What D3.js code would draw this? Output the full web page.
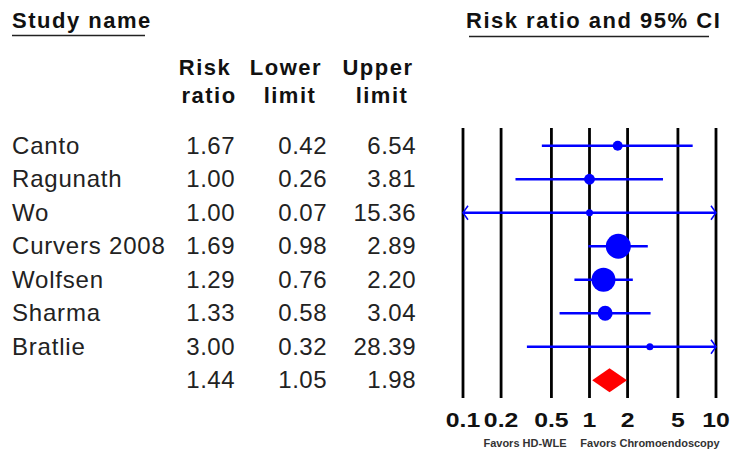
<!DOCTYPE html>
<html>
<head>
<meta charset="utf-8">
<script src="https://cdn.jsdelivr.net/npm/d3@7"></script>
<style>
  html, body { margin: 0; padding: 0; background: #fff; }
  svg text { font-family: "Liberation Sans", Arial, sans-serif; }
</style>
</head>
<body>
<svg id="chart" width="734" height="452"></svg>
<script>
// study data
const studies = ["Canto", "Ragunath", "Wo", "Curvers 2008", "Wolfsen", "Sharma", "Bratlie", ""];
const riskRatio = [1.67, 1.00, 1.00, 1.69, 1.29, 1.33, 3.00, 1.44];
const lowerLimit = [0.42, 0.26, 0.07, 0.98, 0.76, 0.58, 0.32, 1.05];
const upperLimit = [6.54, 3.81, 15.36, 2.89, 2.20, 3.04, 28.39, 1.98];
// relative weights (marker size), last row is the summary
const weights = [1.9, 2.3, 0.9, 12, 11, 4.3, 0.9, null];
const ticks = [0.1, 0.2, 0.5, 1, 2, 5, 10];

const svg = d3.select("#chart");

const x = d3.scaleLog().domain([0.1, 10]).range([463, 716]);
const y = d3.scaleBand().domain(d3.range(studies.length)).range([129, 397]);
const rowY = i => y(i) + y.bandwidth() / 2;
const r = d3.scaleSqrt().domain([0, 12]).range([0, 12.5]);

// --- ヘッダー ---
const boldHead = sel => sel.style("font-size", "22px").style("font-weight", "bold")
  .style("letter-spacing", "1.5px").attr("fill", "#111");

svg.append("text").attr("x", 12).attr("y", 28).call(boldHead).text("Study name");
svg.append("line").attr("x1", 12).attr("x2", 145).attr("y1", 35.5).attr("y2", 35.5)
  .attr("stroke", "#222").attr("stroke-width", 1.5);

svg.append("text").attr("x", 466).attr("y", 28).call(boldHead).text("Risk ratio and 95% CI");
svg.append("line").attr("x1", 469).attr("x2", 709).attr("y1", 36.5).attr("y2", 36.5)
  .attr("stroke", "#222").attr("stroke-width", 1.5);

const colRight = [235, 327, 416];
const headers = [["Risk", "ratio"], ["Lower", "limit"], ["Upper", "limit"]];
const headerCenter = [[205, 209], [286, 290], [378, 382]];
headers.forEach((h, c) => {
  h.forEach((t, k) => {
    svg.append("text").attr("x", headerCenter[c][k]).attr("y", 75 + k * 28)
      .attr("text-anchor", "middle").call(boldHead).text(t);
  });
});

// --- テーブル ---
const cols = [riskRatio, lowerLimit, upperLimit];
studies.forEach((s, i) => {
  const cy = rowY(i) + 8;
  svg.append("text").attr("x", 12).attr("y", cy)
    .style("font-size", "24px").style("letter-spacing", "0.8px").attr("fill", "#222").text(s);
  cols.forEach((col, c) => {
    svg.append("text").attr("x", colRight[c]).attr("y", cy)
      .attr("text-anchor", "end").style("letter-spacing", "0.5px")
      .style("font-size", "24px").attr("fill", "#222").text(col[i].toFixed(2));
  });
});

// --- グリッド線 ---
svg.append("g").selectAll("line").data(ticks).join("line")
  .attr("x1", d => x(d)).attr("x2", d => x(d))
  .attr("y1", 128).attr("y2", 398)
  .attr("stroke", "#000").attr("stroke-width", 2.8);

// tick labels (横に少し広げる)
svg.append("g").selectAll("text").data(ticks).join("text")
  .attr("transform", d => `translate(${x(d)},427) scale(1.18,1)`)
  .attr("text-anchor", "middle")
  .style("font-size", "21px").style("font-weight", "bold").attr("fill", "#111")
  .text(d => d);

svg.append("text").attr("x", 525).attr("y", 447).attr("text-anchor", "middle")
  .style("font-size", "11px").style("font-weight", "bold").attr("fill", "#333")
  .text("Favors HD-WLE");
svg.append("text").attr("x", 650).attr("y", 447).attr("text-anchor", "middle")
  .style("font-size", "11px").style("font-weight", "bold").attr("fill", "#333")
  .text("Favors Chromoendoscopy");

// --- 信頼区間 ---
const lo = x.domain()[0], hi = x.domain()[1];
studies.forEach((s, i) => {
  if (weights[i] === null) return;
  const cy = rowY(i);
  const x1 = x(Math.max(lowerLimit[i], lo));
  const x2 = x(Math.min(upperLimit[i], hi));
  svg.append("line").attr("x1", x1).attr("x2", x2).attr("y1", cy).attr("y2", cy)
    .attr("stroke", "#0000ff").attr("stroke-width", 2.6);
  if (lowerLimit[i] < lo) {
    svg.append("path").attr("d", `M${x1 + 5},${cy - 7} L${x1},${cy} L${x1 + 5},${cy + 7}`)
      .attr("fill", "none").attr("stroke", "#0000ff").attr("stroke-width", 1.5);
  }
  if (upperLimit[i] > hi) {
    svg.append("path").attr("d", `M${x2 - 5},${cy - 7} L${x2},${cy} L${x2 - 5},${cy + 7}`)
      .attr("fill", "none").attr("stroke", "#0000ff").attr("stroke-width", 1.5);
  }
  svg.append("circle").attr("cx", x(riskRatio[i])).attr("cy", cy)
    .attr("r", Math.max(3.5, r(weights[i]))).attr("fill", "#0000ff");
});

// summary diamond
const si = studies.length - 1;
const sy = rowY(si);
svg.append("path")
  .attr("d", `M${x(lowerLimit[si])},${sy} L${x(riskRatio[si])},${sy - 12} L${x(upperLimit[si])},${sy} L${x(riskRatio[si])},${sy + 12} Z`)
  .attr("fill", "#ff0000");
</script>
</body>
</html>
